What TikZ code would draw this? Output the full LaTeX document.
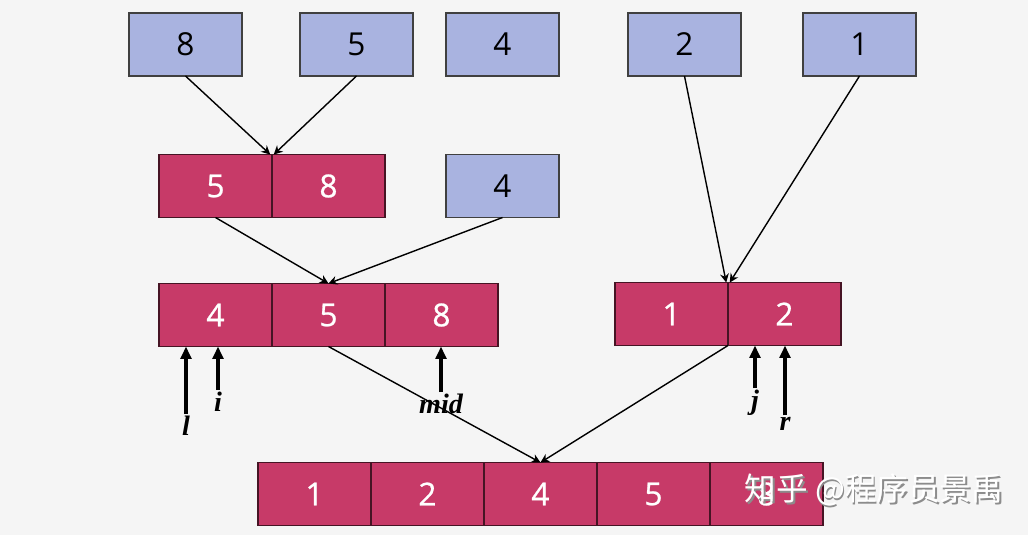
\documentclass[tikz,border=0pt]{standalone}
\usepackage{fontspec}
\setmainfont{Open Sans}
\newfontfamily\semifont{Open Sans}[UprightFeatures={FakeBold=0.8}]
\newfontfamily\labfont{Liberation Serif}
\newfontfamily\cjk{Noto Sans CJK SC}
\usetikzlibrary{arrows.meta,positioning}
\definecolor{bgcol}{HTML}{F5F5F5}
\definecolor{blu}{HTML}{A9B3E0}
\definecolor{rd}{HTML}{C73A68}
\tikzset{
  cell/.style={line width=0.8pt,minimum width=2.26cm,minimum height=1.26cm,inner sep=0pt,outer sep=0pt},
  bluecell/.style={cell,draw=black!75,fill=blu,text=black,font=\fontsize{18}{18}\selectfont},
  redcell/.style={cell,draw=rd!35!black,fill=rd,text=white,font=\semifont\fontsize{18}{18}\selectfont},
  link/.style={-{Stealth[length=5pt,width=5pt]},line width=0.8pt},
  ptr/.style={-{Triangle[length=7pt,width=6pt]},line width=2pt},
  ptrlab/.style={font=\labfont\bfseries\itshape\fontsize{16}{16}\selectfont,inner sep=1pt}
}
\begin{document}
\begin{tikzpicture}[x=0.02cm,y=-0.02cm]
\fill[bgcol] (0,0) rectangle (1028,535);
\useasboundingbox (0,0) rectangle (1028,535);
% top row
\node[bluecell] (t8) at (185.5,44.5) {8};
\node[bluecell] (t5) at (356.5,44.5) {5};
\node[bluecell] (t4) at (502.5,44.5) {4};
\node[bluecell] (t2) at (684.5,44.5) {2};
\node[bluecell] (t1) at (859.5,44.5) {1};
% second row
\node[redcell] (m5) at (215.5,186) {5};
\node[redcell,right=0pt of m5] (m8) {8};
\node[bluecell] (m4) at (502.5,186) {4};
% third row
\node[redcell] (b4) at (215.5,315) {4};
\node[redcell,right=0pt of b4] (b5) {5};
\node[redcell,right=0pt of b5] (b8) {8};
\node[redcell] (c1) at (671.5,314) {1};
\node[redcell,right=0pt of c1] (c2) {2};
% result
\node[redcell] (f1) at (314.5,494) {1};
\node[redcell,right=0pt of f1] (f2) {2};
\node[redcell,right=0pt of f2] (f3) {4};
\node[redcell,right=0pt of f3] (f4) {5};
\node[redcell,right=0pt of f4] (f5) {8};
% merges
\draw[link] (t8.south) -- ([xshift=-1pt]m5.north east);
\draw[link] (t5.south) -- ([xshift=1pt]m5.north east);
\draw[link] (m5.south) -- (b5.north);
\draw[link] (m4.south) -- (b5.north);
\draw[link] (t2.south) -- ([xshift=-1pt]c1.north east);
\draw[link] (t1.south) -- ([xshift=1pt]c1.north east);
\draw[link] (b5.south) -- (f3.north);
\draw[link] (c1.south east) -- (f3.north);
% pointers
\node[ptrlab] (pl) at (186,426) {l};
\node[ptrlab] (pi) at (218,402) {i};
\node[ptrlab] (pm) at (441,404) {mid};
\node[ptrlab] (pj) at (755,403) {j};
\node[ptrlab] (pr) at (785,424) {r};
\draw[ptr] (pl.north) -- (pl.north |- b4.south);
\draw[ptr] (pi.north) -- (pi.north |- b4.south);
\draw[ptr] (pm.north) -- (pm.north |- b8.south);
\draw[ptr] (pj.north) -- (pj.north |- c2.south);
\draw[ptr] (pr.north) -- (pr.north |- c2.south);
% watermark
\node[font=\cjk\fontsize{18}{18}\selectfont,text=black!45,xshift=1pt,yshift=-1pt] at (874,490) {知乎 @程序员景禹};
\node[font=\cjk\fontsize{18}{18}\selectfont,text=white] (wm) at (874,490) {知乎 @程序员景禹};
\end{tikzpicture}
\end{document}
